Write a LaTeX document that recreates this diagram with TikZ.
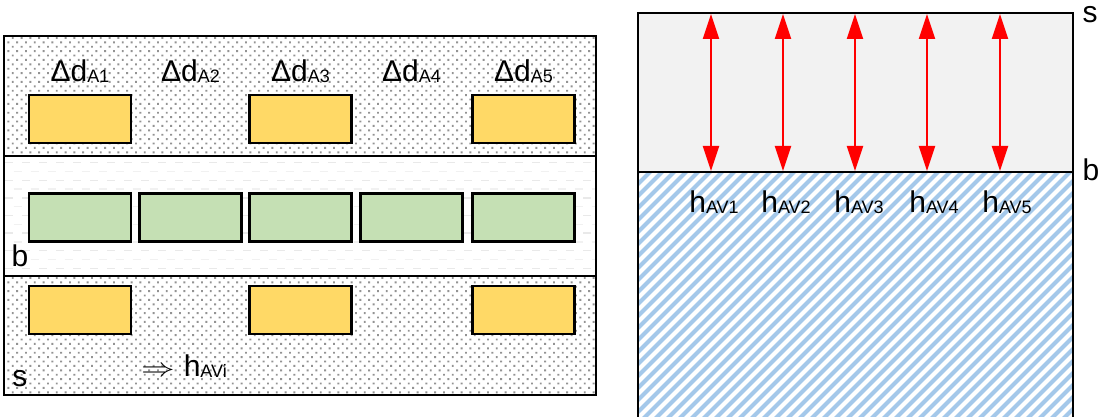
\documentclass[tikz,border=0pt]{standalone}
\usepackage{fontspec}
\setmainfont{Liberation Sans}
\usetikzlibrary{arrows.meta}
\definecolor{boxyellow}{HTML}{FFD966}
\definecolor{boxgreen}{HTML}{C5E0B4}
\definecolor{hatchblue}{HTML}{A4C8EA}
\definecolor{panelgray}{HTML}{F2F2F2}
\definecolor{dotgray}{HTML}{939393}
\definecolor{dashgray}{HTML}{E9E9E9}
\definecolor{dashlight}{HTML}{F1F1F1}
\newcommand{\bigtxt}{\fontsize{30}{32}\selectfont}
\newcommand{\subtxt}[1]{\raisebox{-1pt}{\fontsize{18}{19}\selectfont #1}}
% one row of staggered dots between x=3 and x=596
\newcommand{\dotrow}[2]{%
  \fill[dotgray] \foreach \c in {0,...,67} {({\c*8.8+#2+3},{#1}) rectangle ++(1.9,1.9)};}
\tikzset{
  frame/.style={draw=black, line width=2pt},
  blockbase/.style={draw=black, line width=2.8pt, minimum width=102pt, minimum height=48pt, inner sep=0pt},
  ybox/.style={blockbase, fill=boxyellow},
  gbox/.style={blockbase, fill=boxgreen},
  lbl/.style={font=\bigtxt, inner sep=0pt, anchor=base},
  redarrow/.style={draw=red, line width=2pt, {Triangle[length=25pt,width=16pt]}-{Triangle[length=25pt,width=16pt]}}
}
\begin{document}
\begin{tikzpicture}[x=1pt,y=-1pt]
\useasboundingbox (0,0) rectangle (1101,419);

% ---- left panel: plan view of the three layers ----
% dotted upper and lower layers
\begin{scope}
  \clip (4,36) rectangle (596,156) (4,276) rectangle (596,395);
  \foreach \r in {0,...,27} {
    \pgfmathsetmacro{\yy}{37+\r*4.4}
    \pgfmathsetmacro{\off}{mod(\r,2)*4.4}
    \dotrow{\yy}{\off}
  }
  \foreach \r in {0,...,27} {
    \pgfmathsetmacro{\yy}{277+\r*4.4}
    \pgfmathsetmacro{\off}{mod(\r,2)*4.4}
    \dotrow{\yy}{\off}
  }
\end{scope}
% faint dashed middle layer
\foreach \r in {0,...,12} {
  \pgfmathsetmacro{\yy}{162.7+\r*8.8}
  \pgfmathsetmacro{\ph}{mod(\r,2)*8.5}
  \ifodd\r
    \draw[dashlight, line width=1.3pt, dash pattern=on 8pt off 9pt, dash phase=\ph] (5,\yy) -- (595,\yy);
  \else
    \draw[dashgray, line width=1.3pt, dash pattern=on 8pt off 9pt, dash phase=\ph] (5,\yy) -- (595,\yy);
  \fi
}
\draw[frame] (4,36) rectangle (596,395);
\draw[frame] (4,156) -- (596,156);
\draw[frame] (4,276) -- (596,276);

% upper row of blocks
\node[ybox] (ya1) at (80,119) {};
\node[ybox] (ya3) at (300.5,119) {};
\node[ybox] (ya5) at (523.5,119) {};
% middle row
\node[gbox] (g1) at (80,217.5) {};
\node[gbox] (g2) at (190.5,217.5) {};
\node[gbox] (g3) at (300.5,217.5) {};
\node[gbox] (g4) at (411.5,217.5) {};
\node[gbox] (g5) at (523.5,217.5) {};
% lower row
\node[ybox] (yb1) at (80,310) {};
\node[ybox] (yb3) at (300.5,310) {};
\node[ybox] (yb5) at (523.5,310) {};

% labels
\node[lbl] (da1) at (80,82) {Δd\subtxt{A1}};
\node[lbl] (da2) at (190.5,82) {Δd\subtxt{A2}};
\node[lbl] (da3) at (300.5,82) {Δd\subtxt{A3}};
\node[lbl] (da4) at (411.5,82) {Δd\subtxt{A4}};
\node[lbl] (da5) at (523.5,82) {Δd\subtxt{A5}};
\node[lbl] (lb) at (20,267) {b};
\node[lbl] (ls) at (20,387) {s};
\node[lbl, anchor=base west] (hav) at (141,377) {\scalebox{1.35}[1.05]{$\Rightarrow$}\hspace{9pt}h\subtxt{AVi}};

% ---- right panel: section with the layer heights ----
\fill[panelgray] (638,13) rectangle (1073,172);
\begin{scope}
  \clip (638,172) rectangle (1073,417);
  \foreach \k in {0,...,60}
    \draw[hatchblue, line width=4pt] ({390+12*\k},420) -- ({390+12*\k+260},160);
\end{scope}
\draw[frame] (638,417) -- (638,13) -- (1073,13) -- (1073,417);
\draw[frame] (638,172) -- (1073,172);

\foreach \i/\xx in {1/711,2/783,3/855,4/927,5/1000}{
  \coordinate (t\i) at (\xx,14);
  \coordinate (b\i) at (\xx,171);
}
\foreach \i in {1,...,5}
  \draw[redarrow] (t\i) -- (b\i);

\node[lbl] (h1) at (714,213) {h\subtxt{AV1}};
\node[lbl] (h2) at (786,213) {h\subtxt{AV2}};
\node[lbl] (h3) at (859,213) {h\subtxt{AV3}};
\node[lbl] (h4) at (934,213) {h\subtxt{AV4}};
\node[lbl] (h5) at (1007,213) {h\subtxt{AV5}};
\node[lbl] (rs) at (1090,23) {s};
\node[lbl] (rb) at (1091,181) {b};
\end{tikzpicture}
\end{document}
